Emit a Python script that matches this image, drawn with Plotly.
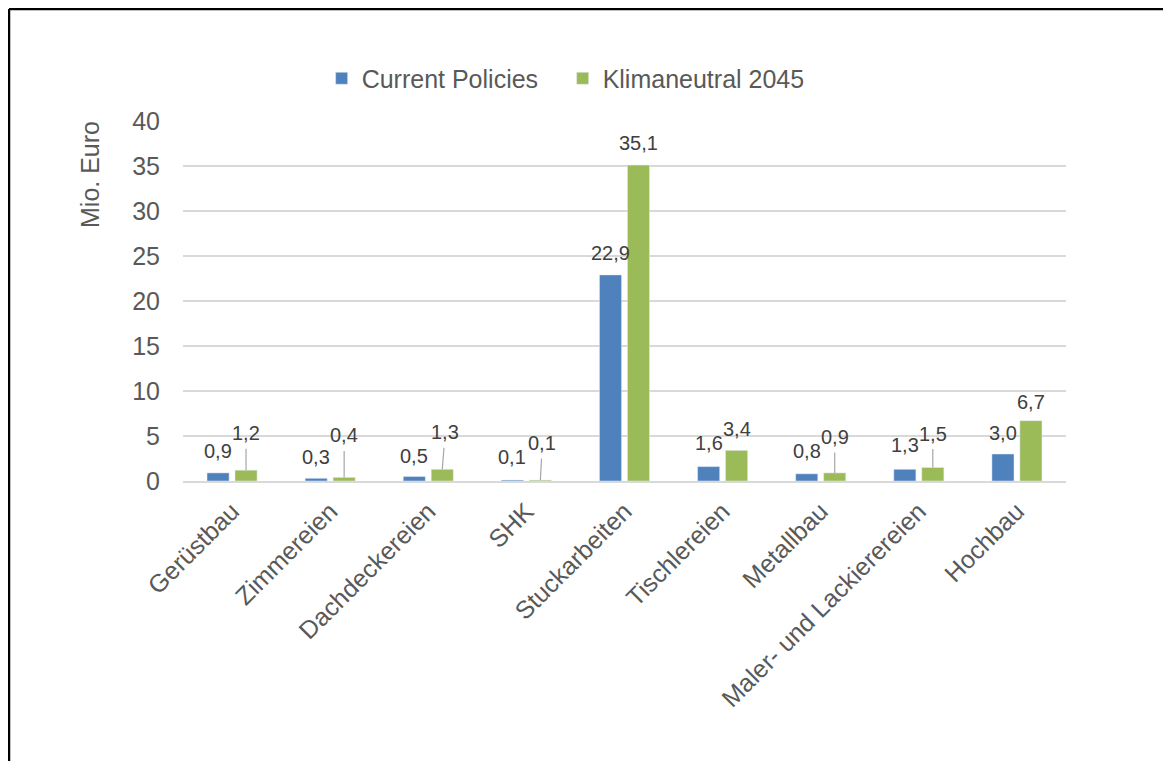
import plotly.graph_objects as go

categories = ["Gerüstbau", "Zimmereien", "Dachdeckereien", "SHK", "Stuckarbeiten",
              "Tischlereien", "Metallbau", "Maler- und Lackierereien", "Hochbau"]
current_policies = [0.9, 0.3, 0.5, 0.1, 22.9, 1.6, 0.8, 1.3, 3.0]
klimaneutral = [1.2, 0.4, 1.3, 0.1, 35.1, 3.4, 0.9, 1.5, 6.7]
y_ticks = [0, 5, 10, 15, 20, 25, 30, 35, 40]
y_title = "Mio. Euro"

# label styling (pixel offsets of the data labels above the bar tops)
blue_label_shift = [22, 21, 21, 23, 22, 24, 23, 24, 21]
green_label_shift = [37, 42, 37, 37, 22, 21, 36, 34, 19]
green_leader = [True, True, True, True, False, False, True, True, False]
green_leader_dx = [0, 0, 3, 2, 0, 0, 0, 0, 0]

BLUE = "#4F81BD"
GREEN = "#9BBB59"
TXT = "#595959"
LBL = "#404040"
FONT = "Liberation Sans, Arial, sans-serif"

BARGAP = 0.43
half = (1 - BARGAP) / 4.0

def fmt(v):
    return f"{v:.1f}".replace(".", ",")

fig = go.Figure()
fig.add_trace(go.Bar(x=categories, y=current_policies, name="Current Policies",
                     marker_color=BLUE))
fig.add_trace(go.Bar(x=categories, y=klimaneutral, name="Klimaneutral 2045",
                     marker_color=GREEN))

ann = []
for i, (b, g) in enumerate(zip(current_policies, klimaneutral)):
    ann.append(dict(x=i - half, y=b, xref="x", yref="y", text=fmt(b), showarrow=False,
                    yshift=blue_label_shift[i], font=dict(size=20, color=LBL, family=FONT)))
    if green_leader[i]:
        ann.append(dict(x=i + half, y=g, xref="x", yref="y", text=fmt(g), showarrow=True,
                        arrowhead=0, arrowwidth=1.2, arrowcolor="#A6A6A6",
                        ax=green_leader_dx[i], ay=-green_label_shift[i], standoff=0,
                        startstandoff=3,
                        font=dict(size=20, color=LBL, family=FONT)))
    else:
        ann.append(dict(x=i + half, y=g, xref="x", yref="y", text=fmt(g), showarrow=False,
                        yshift=green_label_shift[i], font=dict(size=20, color=LBL, family=FONT)))

# the page body has an 8px margin; figure coordinates are offset by it
W, H = 1155, 753
L, R, T, B = 175, 97, 113, 280
pw, ph = W - L - R, H - T - B
bx = (1 - L) / pw
by = (H - B - 1) / ph

# y-axis title placed near the top of the axis, as in the original
ann.append(dict(text=y_title, xref="paper", yref="paper", x=(82 - L) / pw,
                y=(H - B - 167) / ph, showarrow=False, textangle=-90,
                xanchor="center", yanchor="middle",
                font=dict(size=25, color=TXT, family=FONT)))

fig.update_layout(
    width=W, height=H,
    margin=dict(l=L, r=R, t=T, b=B, pad=0),
    paper_bgcolor="white", plot_bgcolor="white",
    barmode="group", bargap=BARGAP, bargroupgap=0.21,
    font=dict(family=FONT, color=TXT),
    showlegend=True,
    legend=dict(orientation="h", x=0.157, y=1.118, xanchor="left", yanchor="middle",
                font=dict(size=25, color=TXT, family=FONT), traceorder="normal",
                itemwidth=30, entrywidth=196, entrywidthmode="pixels",
                bgcolor="rgba(0,0,0,0)"),
    annotations=ann,
    shapes=[
        dict(type="line", xref="paper", yref="paper", x0=bx, x1=bx, y0=-2, y1=by,
             line=dict(color="black", width=2.5)),
        dict(type="line", xref="paper", yref="paper", x0=bx, x1=3, y0=by, y1=by,
             line=dict(color="black", width=2.5)),
    ],
)
fig.update_xaxes(type="category", tickangle=-45, tickfont=dict(size=25, color=TXT, family=FONT),
                 showline=True, linecolor="#D9D9D9", linewidth=1.5, showgrid=False,
                 ticks="", ticklabelstandoff=4)
fig.update_yaxes(range=[0, 40], tickvals=y_ticks, ticktext=[str(v) for v in y_ticks],
                 tickfont=dict(size=25, color=TXT, family=FONT),
                 showgrid=True, gridcolor="#D9D9D9", gridwidth=1.5, zeroline=False,
                 showline=False, ticks="", ticklabelstandoff=22)
fig.write_html("out.html")
